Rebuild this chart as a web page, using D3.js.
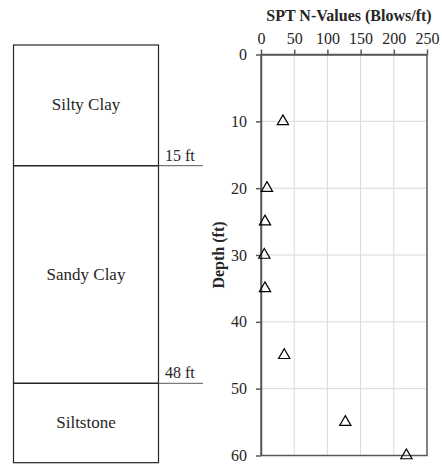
<!DOCTYPE html>
<html>
<head>
<meta charset="utf-8">
<script src="https://cdn.jsdelivr.net/npm/d3@7"></script>
<style>
  body { margin: 0; background: #fff; }
  text { font-family: "Liberation Serif", "Times New Roman", serif; fill: #262626; }
</style>
</head>
<body>
<div id="chart"></div>
<script>
// spt data: depth (ft) and blow counts
const depths = [10, 20, 25, 30, 35, 45, 55, 60];
const nValues = [33, 9, 6, 5, 6, 35, 127, 219];
const xTicks = [0, 50, 100, 150, 200, 250];
const yTicks = [0, 10, 20, 30, 40, 50, 60];

// soil layers
const layerNames = ["Silty Clay", "Sandy Clay", "Siltstone"];
const layerTops = [0, 15, 48];
const layerBottoms = [15, 48, 60];
const boundaryLabels = ["15 ft", "48 ft"];

const width = 442;
const height = 466;
const margin = { top: 54.5, right: 15, bottom: 10, left: 261 };

const svg = d3.select("#chart")
  .append("svg")
  .attr("width", width)
  .attr("height", height);

// scales for the spt plot
const x = d3.scaleLinear().domain([0, 250]).range([margin.left, 427]);
const y = d3.scaleLinear().domain([0, 60]).range([margin.top, 455.5]);

// gridlines
svg.append("g")
  .selectAll("line")
  .data(xTicks.slice(1, -1))
  .join("line")
  .attr("x1", d => x(d)).attr("x2", d => x(d))
  .attr("y1", y(0)).attr("y2", y(60))
  .attr("stroke", "#d9d9d9").attr("stroke-width", 1);

svg.append("g")
  .selectAll("line")
  .data(yTicks.slice(1, -1))
  .join("line")
  .attr("x1", x(0)).attr("x2", x(250))
  .attr("y1", d => y(d)).attr("y2", d => y(d))
  .attr("stroke", "#d9d9d9").attr("stroke-width", 1);

// frame
svg.append("rect")
  .attr("x", x(0)).attr("y", y(0))
  .attr("width", x(250) - x(0)).attr("height", y(60) - y(0))
  .attr("fill", "none").attr("stroke", "#595959").attr("stroke-width", 1.5);

// top axis
const xAxis = svg.append("g")
  .attr("transform", `translate(0,${y(0)})`)
  .call(d3.axisTop(x).tickValues(xTicks).tickSize(5).tickSizeOuter(0).tickPadding(6));
xAxis.select(".domain").attr("stroke", "#595959").attr("stroke-width", 1.5);
xAxis.selectAll(".tick line").attr("stroke", "#595959").attr("stroke-width", 1.5);
xAxis.selectAll("text").attr("font-size", "16px").attr("fill", "#262626")
  .attr("font-family", "Liberation Serif, serif");

// left axis
const yAxis = svg.append("g")
  .attr("transform", `translate(${x(0)},0)`)
  .call(d3.axisLeft(y).tickValues(yTicks).tickSize(5).tickSizeOuter(0).tickPadding(9));
yAxis.select(".domain").attr("stroke", "#595959").attr("stroke-width", 1.5);
yAxis.selectAll(".tick line").attr("stroke", "#595959").attr("stroke-width", 1.5);
yAxis.selectAll("text").attr("font-size", "16px").attr("fill", "#262626")
  .attr("font-family", "Liberation Serif, serif");

// markers
const tri = d3.symbol().type(d3.symbolTriangle).size(55);
svg.append("g")
  .selectAll("path")
  .data(depths)
  .join("path")
  .attr("d", tri)
  .attr("transform", (d, i) => `translate(${x(nValues[i])},${y(d)})`)
  .attr("fill", "none")
  .attr("stroke", "#000")
  .attr("stroke-width", 1.2);

// title
svg.append("text")
  .attr("x", (x(0) + x(250)) / 2 + 5)
  .attr("y", 21)
  .attr("text-anchor", "middle")
  .attr("font-size", "16px")
  .attr("font-weight", "bold")
  .text("SPT N-Values (Blows/ft)");

// y label
svg.append("text")
  .attr("transform", `translate(224,${(y(0) + y(60)) / 2}) rotate(-90)`)
  .attr("text-anchor", "middle")
  .attr("font-size", "16px")
  .attr("font-weight", "bold")
  .text("Depth (ft)");

// --------- soil column on the left ---------
const logY = d3.scaleLinear().domain([0, 15, 48, 60]).range([45, 165.7, 383.3, 462.7]);
const colLeft = 13.5;
const colRight = 158.5;

svg.append("g")
  .selectAll("rect")
  .data(layerNames)
  .join("rect")
  .attr("x", colLeft)
  .attr("y", (d, i) => logY(layerTops[i]))
  .attr("width", colRight - colLeft)
  .attr("height", (d, i) => logY(layerBottoms[i]) - logY(layerTops[i]))
  .attr("fill", "none")
  .attr("stroke", "#262626")
  .attr("stroke-width", 1.2);

svg.append("g")
  .selectAll("text")
  .data(layerNames)
  .join("text")
  .attr("x", (colLeft + colRight) / 2)
  .attr("y", (d, i) => (logY(layerTops[i]) + logY(layerBottoms[i])) / 2 + 5)
  .attr("text-anchor", "middle")
  .attr("font-size", "17px")
  .text(d => d);

// boundary ticks extending to the right
const bounds = layerBottoms.slice(0, 2);
svg.append("g")
  .selectAll("line")
  .data(bounds)
  .join("line")
  .attr("x1", colRight).attr("x2", 203)
  .attr("y1", d => logY(d)).attr("y2", d => logY(d))
  .attr("stroke", "#595959").attr("stroke-width", 1);

svg.append("g")
  .selectAll("text")
  .data(bounds)
  .join("text")
  .attr("x", 165)
  .attr("y", d => logY(d) - 5)
  .attr("font-size", "16px")
  .text((d, i) => boundaryLabels[i]);
</script>
</body>
</html>
